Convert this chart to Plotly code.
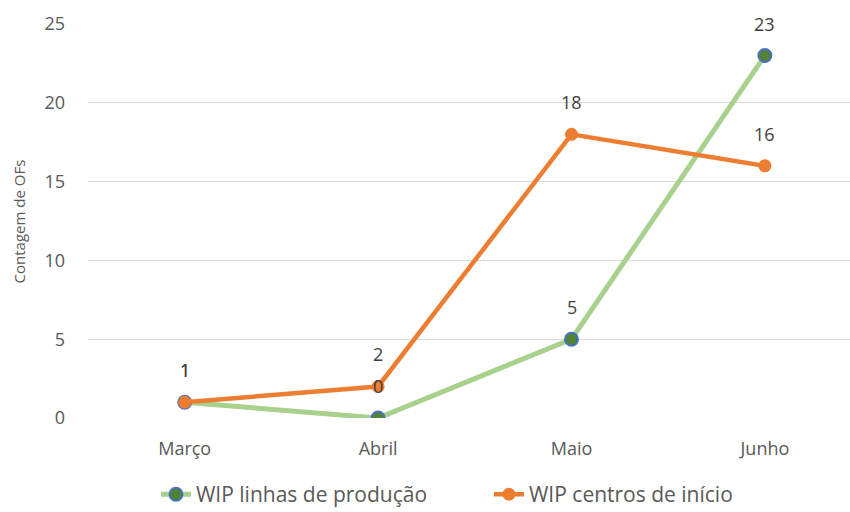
import plotly.graph_objects as go

# --- data ---
months = ["Março", "Abril", "Maio", "Junho"]
wip_linhas = [1, 0, 5, 23]
wip_centros = [1, 2, 18, 16]

COLORS = {
    'green_line': '#A9D18E',
    'green_fill': '#548235',
    'blue_edge': '#4472C4',
    'orange': '#ED7D31',
    'grid': '#D9D9D9',
    'text': '#595959',
}
FONT = "'Open Sans', sans-serif"

fig = go.Figure()

fig.add_trace(go.Scatter(
    x=months, y=wip_linhas, name='WIP linhas de produção',
    mode='lines+markers',
    line=dict(color=COLORS['green_line'], width=5),
    marker=dict(size=13, color=COLORS['green_fill'],
                line=dict(color=COLORS['blue_edge'], width=2)),
))

fig.add_trace(go.Scatter(
    x=months, y=wip_centros, name='WIP centros de início',
    mode='lines+markers',
    line=dict(color=COLORS['orange'], width=4.5),
    marker=dict(size=13, color=COLORS['orange']),
))

# data labels above each point
for series in (wip_linhas, wip_centros):
    for m, v in zip(months, series):
        fig.add_annotation(x=m, y=v, text=str(v), showarrow=False,
                           yshift=32, font=dict(size=18, color='#404040', family=FONT))

fig.update_layout(
    width=850, height=512,
    plot_bgcolor='white', paper_bgcolor='white',
    font=dict(family=FONT, color=COLORS['text'], size=18),
    margin=dict(l=88, r=0, t=24, b=94, autoexpand=False),
    showlegend=True,
    legend=dict(orientation='h', xref='container', yref='container',
                x=0.1835, xanchor='left', y=0.034, yanchor='middle',
                font=dict(size=21, color=COLORS['text']), entrywidth=288),
    xaxis=dict(range=[-0.5, 3.44], showgrid=False, showline=False,
               ticks='outside', ticklen=14, tickcolor='rgba(0,0,0,0)',
               tickfont=dict(size=18, color=COLORS['text'])),
    yaxis=dict(range=[0, 25], dtick=5, gridcolor=COLORS['grid'], gridwidth=1.3,
               zeroline=False, showline=False, ticks='', ticklabelstandoff=22,
               tickfont=dict(size=18, color=COLORS['text'])),
)

# axis title placed as paper annotation so it sits near the left edge
fig.add_annotation(text='Contagem de OFs', textangle=-90, xref='paper', yref='paper',
                   x=-0.09, y=0.5, xanchor='center', yanchor='middle', showarrow=False,
                   font=dict(size=15, color=COLORS['text'], family=FONT))

fig.write_html("out.html", config={'displayModeBar': False},
               post_script="document.body.style.margin='0';")
